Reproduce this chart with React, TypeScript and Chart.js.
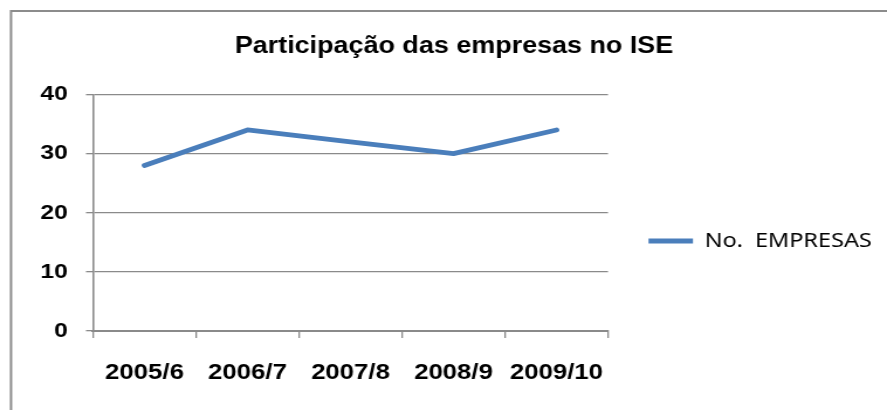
import React, { useEffect, useRef } from "react";
import { Chart, registerables } from "chart.js";

Chart.register(...registerables);

// ---- data ----
const categories = ["2005/6", "2006/7", "2007/8", "2008/9", "2009/10"];
const empresas = [28, 34, 32, 30, 34];
const seriesLabel = "No.  EMPRESAS";
const chartTitle = "Participação das empresas no ISE";
const yMin = 0;
const yMax = 40;
const yStep = 10;

// ---- layout (page px converted to logical px; the canvas is stretched horizontally) ----
const PAGE_W = 887;
const PAGE_H = 410;
const SX = 1.17;
const W = Math.round(PAGE_W / SX);
const SCALE_X = PAGE_W / W;
const lx = (px: number) => px / SCALE_X;

const plotLeft = lx(93);
const plotRight = lx(608);
const plotTop = 94.5;
const plotBottom = 331;
const titleCenter = lx(454);

const FONT = "'Liberation Sans', Arial, sans-serif";
const GRID = "#8a8a8a";

const framePlugin = {
  id: "frame",
  beforeDraw(chart: any) {
    const ctx = chart.ctx;
    ctx.save();
    ctx.fillStyle = "#ffffff";
    ctx.fillRect(0, 0, chart.width, chart.height);
    ctx.strokeStyle = "#8c8c8c";
    ctx.lineWidth = 2;
    ctx.beginPath();
    ctx.moveTo(lx(11), chart.height);
    ctx.lineTo(lx(11), 11);
    ctx.lineTo(chart.width, 11);
    ctx.stroke();
    ctx.restore();
  },
};

export default function App() {
  const ref = useRef<HTMLCanvasElement | null>(null);

  useEffect(() => {
    document.body.style.margin = "0";
    document.documentElement.style.overflow = "hidden";
    const canvas = ref.current;
    if (!canvas) return;

    const legendPad = lx(648.5) - plotRight;
    const legendMax = 230;
    const padRight = W - plotRight - legendMax;
    const padLeft = padRight + (2 * titleCenter - W);
    const titleSize = 23;
    const titleTop = 32.7;
    const titleBottom = plotTop - titleSize * 1.2 - titleTop;
    const legendTitleH = 241 - 10 - legendPad;

    const chart = new Chart(canvas, {
      type: "line",
      data: {
        labels: categories,
        datasets: [
          {
            label: seriesLabel,
            data: empresas,
            borderColor: "#4a7ebb",
            backgroundColor: "#4a7ebb",
            borderWidth: 4.8,
            borderCapStyle: "round",
            borderJoinStyle: "round",
            pointRadius: 0,
            pointHoverRadius: 0,
            tension: 0,
            fill: false,
          },
        ],
      },
      plugins: [framePlugin],
      options: {
        animation: false,
        responsive: false,
        devicePixelRatio: 1,
        events: [],
        layout: { padding: { left: padLeft, right: padRight, top: 0, bottom: 0 } },
        plugins: {
          title: {
            display: true,
            text: chartTitle,
            color: "#000000",
            font: { family: FONT, size: titleSize, weight: "bold" },
            padding: { top: titleTop, bottom: titleBottom },
          },
          legend: {
            position: "right",
            align: "start",
            maxWidth: legendMax,
            title: {
              display: true,
              text: "",
              font: { size: 12, lineHeight: 1.2 },
              padding: { top: legendTitleH - 14.4, bottom: 0 },
            },
            labels: {
              usePointStyle: true,
              pointStyle: "line",
              pointStyleWidth: 38,
              padding: legendPad,
              color: "#000000",
              font: { family: "'Noto Sans', sans-serif", size: 20 },
            },
          },
          tooltip: { enabled: false },
        },
        scales: {
          x: {
            type: "category",
            offset: true,
            afterFit: (s: any) => {
              s.height = PAGE_H - plotBottom;
            },
            grid: {
              offset: true,
              drawOnChartArea: false,
              drawTicks: true,
              tickLength: 7,
              color: GRID,
              lineWidth: 1.3,
            },
            border: { display: true, color: GRID, width: 2 },
            ticks: {
              autoSkip: false,
              maxRotation: 0,
              minRotation: 0,
              padding: 21.8,
              color: "#000000",
              font: { family: FONT, size: 22, weight: "bold" },
            },
          },
          y: {
            min: yMin,
            max: yMax,
            afterFit: (s: any) => {
              s.width = plotLeft - padLeft;
            },
            grid: {
              drawOnChartArea: true,
              drawTicks: true,
              tickLength: 6,
              color: GRID,
              lineWidth: 1.3,
            },
            border: { display: true, color: GRID, width: 1.6 },
            ticks: {
              stepSize: yStep,
              padding: 15.5,
              color: "#000000",
              font: { family: FONT, size: 21, weight: "bold" },
            },
          },
        },
      },
    } as any);

    return () => chart.destroy();
  }, []);

  return (
    <div style={{ width: PAGE_W, height: PAGE_H, overflow: "hidden", background: "#ffffff" }}>
      <div
        style={{
          width: W,
          height: PAGE_H,
          transform: `scaleX(${SCALE_X})`,
          transformOrigin: "0 0",
        }}
      >
        <canvas ref={ref} width={W} height={PAGE_H} style={{ display: "block" }} />
      </div>
    </div>
  );
}
